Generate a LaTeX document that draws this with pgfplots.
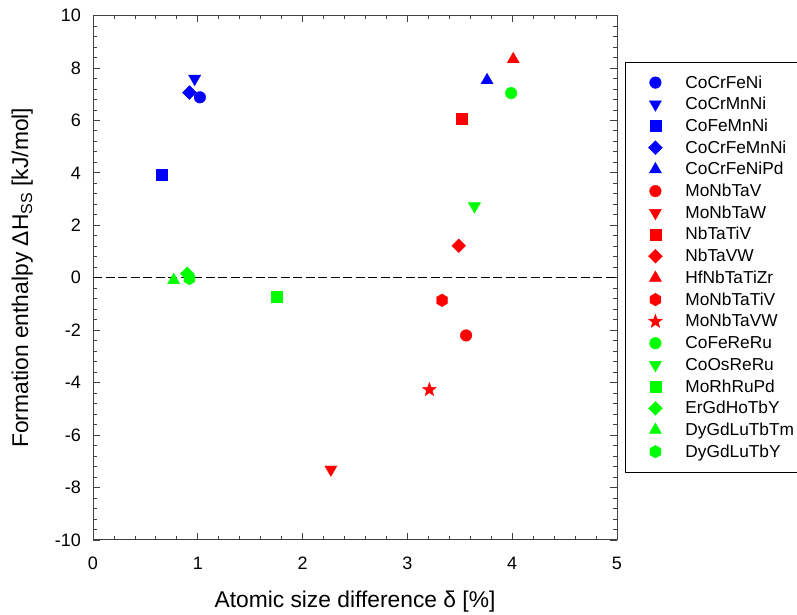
\documentclass[border=0pt]{standalone}
\usepackage{pgfplots}
\pgfplotsset{compat=1.18}
\usepackage{fontspec}
\setmainfont{Liberation Sans}
\definecolor{cblue}{rgb}{0,0,1}
\definecolor{cred}{rgb}{1,0,0}
\definecolor{cgreen}{rgb}{0,1,0}

% filled hexagon and star marks
\pgfdeclareplotmark{hexa}{%
  \pgfpathmoveto{\pgfpointpolar{90}{\pgfplotmarksize}}%
  \pgfpathlineto{\pgfpointpolar{150}{\pgfplotmarksize}}%
  \pgfpathlineto{\pgfpointpolar{210}{\pgfplotmarksize}}%
  \pgfpathlineto{\pgfpointpolar{270}{\pgfplotmarksize}}%
  \pgfpathlineto{\pgfpointpolar{330}{\pgfplotmarksize}}%
  \pgfpathlineto{\pgfpointpolar{30}{\pgfplotmarksize}}%
  \pgfpathclose\pgfusepathqfillstroke}
\pgfdeclareplotmark{fstar}{%
  \pgfpathmoveto{\pgfpointpolar{90}{\pgfplotmarksize}}%
  \pgfpathlineto{\pgfpointpolar{126}{0.42\pgfplotmarksize}}%
  \pgfpathlineto{\pgfpointpolar{162}{\pgfplotmarksize}}%
  \pgfpathlineto{\pgfpointpolar{198}{0.42\pgfplotmarksize}}%
  \pgfpathlineto{\pgfpointpolar{234}{\pgfplotmarksize}}%
  \pgfpathlineto{\pgfpointpolar{270}{0.42\pgfplotmarksize}}%
  \pgfpathlineto{\pgfpointpolar{306}{\pgfplotmarksize}}%
  \pgfpathlineto{\pgfpointpolar{342}{0.42\pgfplotmarksize}}%
  \pgfpathlineto{\pgfpointpolar{18}{\pgfplotmarksize}}%
  \pgfpathlineto{\pgfpointpolar{54}{0.42\pgfplotmarksize}}%
  \pgfpathclose\pgfusepathqfillstroke}

\pgfplotsset{
  pt/.style={only marks, line width=0.4pt,
    legend image code/.code={\path[draw=none,fill=none] (0pt,0pt) -- (40pt,0pt);
      \draw[mark repeat=2,mark phase=2,##1,only marks] plot coordinates {(0pt,0pt) (20pt,0pt) (40pt,0pt)};}},
  mcirc/.style={mark=*, mark size=5.8pt},
  msq/.style={mark=square*, mark size=5.5pt},
  mdia/.style={mark=square*, mark size=4.9pt, mark options={rotate=45}},
  mtri/.style={mark=triangle*, mark size=7pt},
  mdown/.style={mark=triangle*, mark size=7pt, mark options={rotate=180}},
  mhex/.style={mark=hexa, mark size=6.3pt},
  mstar/.style={mark=fstar, mark size=7.2pt},
}

\begin{document}
\begin{tikzpicture}
\begin{axis}[
  at={(93pt,75pt)}, anchor=south west,
  scale only axis, width=524pt, height=524.5pt,
  xmin=0, xmax=5, ymin=-10, ymax=10,
  xtick={0,1,2,3,4,5}, ytick={-10,-8,-6,-4,-2,0,2,4,6,8,10},
  minor x tick num=4, minor y tick num=4,
  tick align=inside, major tick length=7pt, minor tick length=4pt,
  axis line style={black!75, line width=1pt},
  tick style={black!75, line width=0.8pt},
  /pgf/number format/assume math mode=true,
  tick label style={font=\fontsize{18}{20}\selectfont},
  xticklabel style={anchor=base, yshift=-30pt},
  yticklabel style={anchor=east, inner sep=0pt, xshift=-12pt},
  xlabel={Atomic size difference δ [\%]},
  ylabel={Formation enthalpy ΔH\textsubscript{SS} [kJ/mol]},
  label style={font=\fontsize{22.8}{24}\selectfont},
  xlabel style={at={(axis description cs:0.5,0)}, anchor=base, yshift=-67pt},
  ylabel style={at={(axis description cs:-0.124,0.5)}, anchor=base, rotate=0},
  legend cell align=left,
  legend style={at={(1.0153,0.9119)}, anchor=north west, draw=black, line width=0.8pt,
    inner xsep=10pt, inner ysep=13.5pt, row sep=7.7pt, column sep=10pt,
    font=\fontsize{17.3}{19}\selectfont,
    nodes={inner sep=0pt, text height=12.4pt, text depth=1.6pt}},
]
\addplot[black, line width=0.9pt, dash pattern=on 9pt off 3.5pt, forget plot] coordinates {(0,0) (5,0)};

\addplot[pt, mcirc, cblue] coordinates {(1.02,6.88)};
\addlegendentry{CoCrFeNi}
\addplot[pt, mdown, cblue] coordinates {(0.97,7.59)};
\addlegendentry{CoCrMnNi}
\addplot[pt, msq, cblue] coordinates {(0.66,3.92)};
\addlegendentry{CoFeMnNi}
\addplot[pt, mdia, cblue] coordinates {(0.92,7.06)};
\addlegendentry{CoCrFeMnNi}
\addplot[pt, mtri, cblue] coordinates {(3.76,7.53)};
\addlegendentry{CoCrFeNiPd}

\addplot[pt, mcirc, cred] coordinates {(3.56,-2.20)};
\addlegendentry{MoNbTaV}
\addplot[pt, mdown, cred] coordinates {(2.27,-7.31)};
\addlegendentry{MoNbTaW}
\addplot[pt, msq, cred] coordinates {(3.52,6.05)};
\addlegendentry{NbTaTiV}
\addplot[pt, mdia, cred] coordinates {(3.49,1.22)};
\addlegendentry{NbTaVW}
\addplot[pt, mtri, cred] coordinates {(4.01,8.33)};
\addlegendentry{HfNbTaTiZr}
\addplot[pt, mhex, cred] coordinates {(3.33,-0.86)};
\addlegendentry{MoNbTaTiV}
\addplot[pt, mstar, cred] coordinates {(3.21,-4.27)};
\addlegendentry{MoNbTaVW}

\addplot[pt, mcirc, cgreen] coordinates {(3.99,7.04)};
\addlegendentry{CoFeReRu}
\addplot[pt, mdown, cgreen] coordinates {(3.64,2.73)};
\addlegendentry{CoOsReRu}
\addplot[pt, msq, cgreen] coordinates {(1.75,-0.74)};
\addlegendentry{MoRhRuPd}
\addplot[pt, mdia, cgreen] coordinates {(0.90,0.15)};
\addlegendentry{ErGdHoTbY}
\addplot[pt, mtri, cgreen] coordinates {(0.77,-0.09)};
\addlegendentry{DyGdLuTbTm\hspace{8pt}}
\addplot[pt, mhex, cgreen] coordinates {(0.92,-0.03)};
\addlegendentry{DyGdLuTbY}
\end{axis}
\pgfresetboundingbox
\path (0pt,0pt) rectangle (797pt,615pt);
\end{tikzpicture}
\end{document}
